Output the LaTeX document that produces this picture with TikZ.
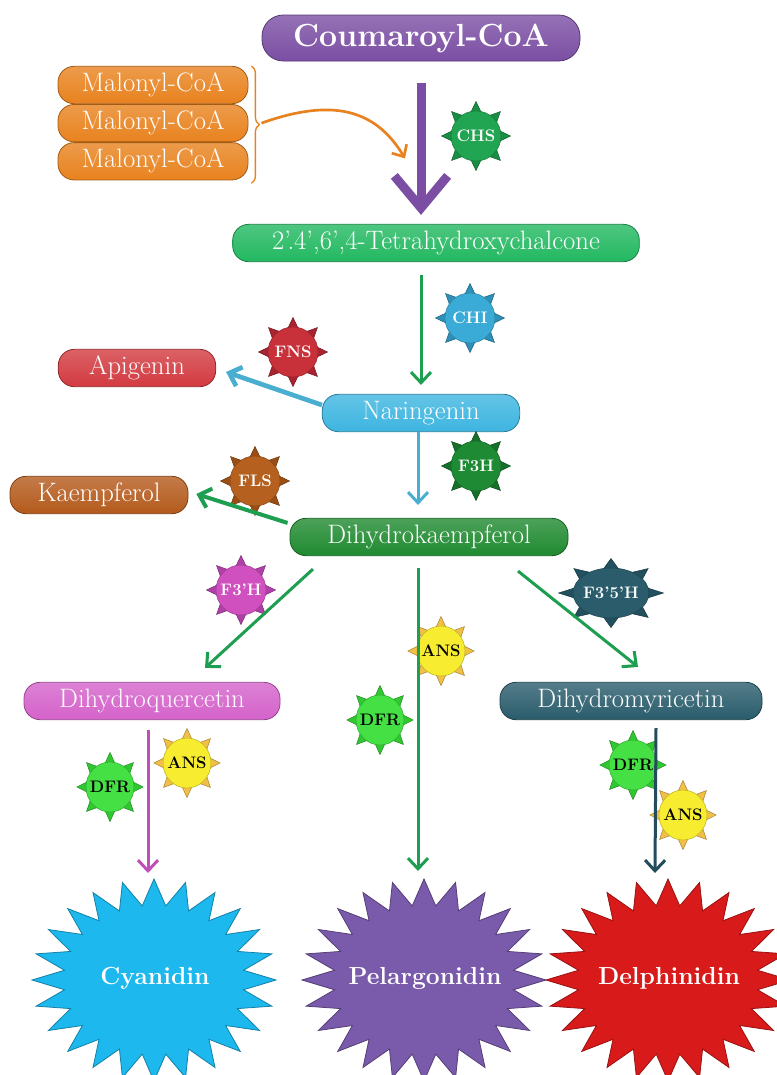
\documentclass[tikz,border=0pt]{standalone}
\usepackage{tikz}
\usetikzlibrary{positioning, shapes.geometric, arrows.meta, decorations.pathreplacing, calc}

\definecolor{coupurple}{HTML}{7B4EA3}
\definecolor{malorange}{HTML}{E8821E}
\definecolor{chalgreen}{HTML}{22B860}
\definecolor{apired}{HTML}{D23A40}
\definecolor{narblue}{HTML}{3DB5E0}
\definecolor{kaebrown}{HTML}{B45A1C}
\definecolor{dhkgreen}{HTML}{1F8A30}
\definecolor{dhqpink}{HTML}{D462CA}
\definecolor{dhmteal}{HTML}{2A5C6C}
\definecolor{cyablue}{HTML}{1DB8EE}
\definecolor{pelpurple}{HTML}{7A5AAA}
\definecolor{delred}{HTML}{D81A1A}
% enzyme colours (disc / points)
\definecolor{chsgreen}{HTML}{22A552}\definecolor{chsgreenD}{HTML}{1A8E44}
\definecolor{chiblue}{HTML}{3AAAD6}\definecolor{chiblueD}{HTML}{2E90B8}
\definecolor{fnsred}{HTML}{C8303A}\definecolor{fnsredD}{HTML}{A82430}
\definecolor{fthgreen}{HTML}{1E8A34}\definecolor{fthgreenD}{HTML}{16702A}
\definecolor{flsbrown}{HTML}{B5601E}\definecolor{flsbrownD}{HTML}{9A4E14}
\definecolor{fhpink}{HTML}{D050C0}\definecolor{fhpinkD}{HTML}{B040A8}
\definecolor{ffhteal}{HTML}{2A5C6C}\definecolor{ffhtealD}{HTML}{22505E}
\definecolor{ansyellow}{HTML}{F8EC30}\definecolor{ansyellowD}{HTML}{F2C048}
\definecolor{dfrgreen}{HTML}{44E044}\definecolor{dfrgreenD}{HTML}{30C830}
% arrow colours
\definecolor{flowgreen}{HTML}{1E9E50}
\definecolor{flowblue}{HTML}{4AAED0}
\definecolor{flowpink}{HTML}{C050B8}
\definecolor{flowteal}{HTML}{234C5C}

\begin{document}
\begin{tikzpicture}[
        x=0.75pt, y=-0.75pt,
        mol/.style={rectangle, rounded corners=12pt, draw=#1!70!black, line width=0.6pt,
            top color=#1!80!white, bottom color=#1, text=white,
            font=\fontsize{20}{24}\selectfont, minimum height=28pt, inner sep=1pt},
        enzdisc/.style={ellipse, inner sep=0pt, line width=0.4pt,
            font=\bfseries\fontsize{12.5}{15}\selectfont},
        startext/.style={text=white, font=\bfseries\fontsize{18.5}{22}\selectfont},
        flow/.style={line width=2.25pt, -{Straight Barb[length=8pt,width=15pt]}}
        ]
        \clip (0,0) rectangle (777,1075);
        \fill[white] (0,0) rectangle (777,1075);

        % Big anthocyanidin stars
        \foreach \nm/\x/\col/\lb in {cya/154/cyablue/Cyanidin, pel/424/pelpurple/Pelargonidin, del/668/delred/Delphinidin}{
            \filldraw[fill=\col, draw=\col!70!black, line width=0.6pt, shift={(\x,980)}]
                (90:122 and 101) \foreach \k in {1,...,47}{
                    -- ({90+7.5*\k}:{(0.87+0.13*cos(180*\k))*122} and {(0.87+0.13*cos(180*\k))*101}) } -- cycle;
            \node[startext] (\nm) at (\x+1,978) {\lb};
        }

        % Molecules
        \node[mol=coupurple, minimum width=238.5pt, minimum height=34.5pt, rounded corners=16pt,
            font=\bfseries\fontsize{24}{28}\selectfont] (cou) at (421,38) {Coumaroyl-CoA};
        \node[mol=malorange, minimum width=142.5pt] (mal1) at (153,85) {Malonyl-CoA};
        \node[mol=malorange, minimum width=142.5pt] (mal2) [below=0pt of mal1] {Malonyl-CoA};
        \node[mol=malorange, minimum width=142.5pt] (mal3) [below=0pt of mal2] {Malonyl-CoA};
        \node[mol=chalgreen, minimum width=305pt] (chal) at (436,243) {2’.4’,6’,4-Tetrahydroxychalcone};
        \node[mol=apired, minimum width=118pt] (api) at (137,368) {Apigenin};
        \node[mol=narblue, minimum width=148pt] (nar) at (421,413) {Naringenin};
        \node[mol=kaebrown, minimum width=133.5pt] (kae) at (99,495) {Kaempferol};
        \node[mol=dhkgreen, minimum width=208.5pt] (dhk) at (429,537) {Dihydrokaempferol};
        \node[mol=dhqpink, minimum width=192pt] (dhq) at (152,701) {Dihydroquercetin};
        \node[mol=dhmteal, minimum width=196.5pt] (dhm) at (631,701) {Dihydromyricetin};

        % Enzymes
        \foreach \nm/\x/\y/\rx/\dc/\pc/\tc/\lb in {
            chs/476/136/25/chsgreen/chsgreenD/white/CHS,
            chi/470/318/25/chiblue/chiblueD/white/CHI,
            fns/293/352/25/fnsred/fnsredD/white/FNS,
            fth/476/466/25/fthgreen/fthgreenD/white/F3H,
            fls/255/481/25/flsbrown/flsbrownD/white/FLS,
            fh/241/590/25/fhpink/fhpinkD/white/F3’H,
            ffh/611/593/38/ffhteal/ffhtealD/white/F3’5’H,
            ansa/441/651/24/ansyellow/ansyellowD/black/ANS,
            dfra/380/720/24/dfrgreen/dfrgreenD/black/DFR,
            ansb/187/763/24/ansyellow/ansyellowD/black/ANS,
            dfrb/110/787/24/dfrgreen/dfrgreenD/black/DFR,
            dfrc/633/765/24/dfrgreen/dfrgreenD/black/DFR,
            ansc/683/815/24/ansyellow/ansyellowD/black/ANS}{
            \filldraw[fill=\pc, draw=\pc!70!black, line width=0.4pt, shift={(\x,\y)}]
                (90:{1.38*\rx} and {1.38*25}) \foreach \k in {1,...,15}{
                    -- ({90+22.5*\k}:{(1.09+0.29*cos(180*\k))*\rx} and {(1.09+0.29*cos(180*\k))*25}) } -- cycle;
            \node[enzdisc, fill=\dc, draw=\dc!75!black, text=\tc, minimum width=1.5pt*\rx,
                minimum height=37.5pt] (\nm) at (\x,\y) {\makebox[0pt]{\lb}};
        }

        % Malonyl brace and its arrow
        \draw[malorange, line width=1pt, decorate, decoration={brace, amplitude=6pt}]
            ($(mal1.north east)+(3,0)$) -- ($(mal3.south east)+(3,3)$);
        \coordinate (brtip) at ($(mal2.east)+(13,0)$);
        \coordinate (chsin) at ($(cou.south)+(-16,97)$);
        \draw[malorange, line width=2pt, -{Straight Barb[length=7pt,width=13pt]}]
            (brtip) .. controls ($(brtip)+(70,-25)$) and ($(chsin)+(-30,-50)$) .. (chsin);

        % Arrows
        \draw[coupurple, line width=6.75pt, -{Straight Barb[length=24pt,width=40pt]}]
            ($(cou.south)+(0,22)$) -- ($(cou.south |- chal.north)+(0,-9)$);
        \draw[flow, flowgreen] ($(nar.north |- chal.south)+(0,13)$) -- ($(nar.north)+(0,-9)$);
        \draw[flow, flowblue, line width=3.5pt] ($(nar.west)+(0,-8)$) -- ($(api.east)+(10,4)$);
        \draw[flow, flowblue] ($(nar.south)+(-3,0)$) -- ($(nar.south |- dhk.north)+(-3,-13)$);
        \draw[flow, flowgreen, line width=3pt] ($(dhk.north west)+(-2,5)$) -- ($(kae.east)+(8,-1)$);
        \draw[flow, flowgreen] ($(dhk.south)+(-116,13)$) -- ($(dhq.north)+(53,-14)$);
        \draw[flow, flowgreen] ($(dhk.south)+(89,15)$) -- ($(dhm.north)+(7,-15)$);
        \draw[flow, flowgreen] ($(dhk.south)+(-11,12)$) -- ($(pel)+(-7,-107)$);
        \draw[flow, flowpink] ($(dhq.south)+(-4,10)$) -- ($(cya)+(-7,-105)$);
        \draw[flow, flowteal] ($(dhm.south)+(25,8)$) -- ($(del)+(-14,-105)$);
    \end{tikzpicture}
\end{document}
